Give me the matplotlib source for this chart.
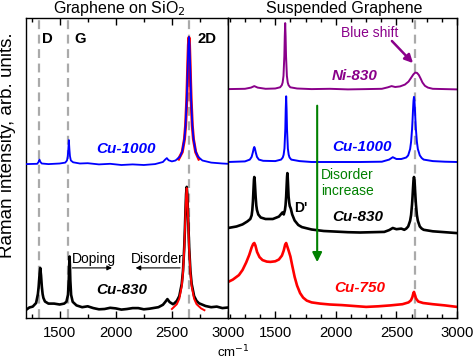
import matplotlib
matplotlib.use("Agg")
import matplotlib.pyplot as plt
from matplotlib.ticker import MultipleLocator, FixedLocator

plt.rcParams['font.family'] = ['Liberation Sans', 'DejaVu Sans']

# ---------------- data (wavenumber cm^-1, intensity arb. units, offset stacked) -------------
# Left panel: graphene on SiO2
l_cu1000_x = [1200, 1300, 1315, 1320, 1325, 1340, 1400, 1500, 1550, 1565, 1572, 1577, 1582, 1587, 1592,
              1600, 1620, 1680, 1750, 1850, 1950, 2050, 2150, 2250, 2350, 2420, 2440, 2455, 2470, 2500,
              2532, 2572, 2592, 2612, 2622, 2632, 2637, 2642, 2647, 2652, 2657, 2662, 2667, 2672, 2682,
              2692, 2712, 2732, 2772, 2850, 2950, 3000]
l_cu1000_y = [51.3, 51.4, 52.2, 52.8, 52.2, 51.5, 51.3, 51.5, 51.8, 52.5, 53.9, 56.2, 59.3, 56.2, 53.9,
              52.5, 51.9, 51.5, 51.6, 51.2, 51.4, 51.0, 51.2, 51.0, 51.3, 52.0, 52.8, 53.3, 52.6, 52.2,
              52.5, 53.8, 55.5, 59.8, 64.3, 72.5, 78.4, 85.2, 91.2, 93.7, 91.2, 85.2, 78.4, 72.5, 64.3,
              59.8, 55.5, 53.8, 52.5, 51.8, 51.5, 51.4]
l_cu1000_fit_x = [2560, 2592, 2612, 2622, 2632, 2637, 2642, 2647, 2652, 2657, 2662, 2667, 2672, 2682,
                  2692, 2712, 2740]
l_cu1000_fit_y = [53.0, 55.3, 59.6, 64.1, 72.3, 78.2, 85.0, 91.0, 93.5, 91.0, 85.0, 78.2, 72.3, 64.1,
                  59.6, 55.3, 53.0]

l_cu830_x = [1200, 1230, 1260, 1290, 1299, 1306, 1313, 1320, 1327, 1334, 1341, 1348, 1355, 1369, 1400,
             1450, 1500, 1540, 1560, 1574, 1581, 1584.5, 1588, 1591.5, 1595, 1602, 1616, 1650, 1700, 1750,
             1800, 1850, 1900, 1950, 2000, 2050, 2100, 2150, 2200, 2250, 2300, 2380, 2420, 2440, 2460,
             2480, 2510, 2522, 2544, 2566, 2588, 2599, 2610, 2615.5, 2621, 2626.5, 2632, 2637.5, 2643,
             2648.5, 2654, 2665, 2676, 2698, 2720, 2742, 2800, 2850, 2900, 2950, 3000]
l_cu830_y = [2.7, 3.5, 3.8, 5.0, 6.7, 8.0, 10.5, 14.2, 16.7, 14.2, 10.5, 8.0, 6.7, 5.5, 4.8,
             4.8, 4.5, 4.8, 5.4, 7.7, 12.5, 17.3, 20.5, 17.3, 12.5, 7.7, 5.4, 4.2, 3.6, 3.9,
             3.3, 2.9, 3.0, 3.4, 3.2, 2.8, 3.0, 3.3, 3.3, 2.9, 3.1, 3.6, 4.4, 5.3, 6.3,
             5.3, 4.6, 4.9, 5.7, 7.3, 11.4, 15.7, 23.5, 29.2, 35.6, 41.3, 43.7, 41.3, 35.6,
             29.2, 23.5, 15.7, 11.4, 7.3, 5.7, 4.9, 4.0, 3.6, 3.8, 3.3, 3.5]
l_cu830_fit_x = [2500, 2544, 2566, 2588, 2599, 2610, 2615.5, 2621, 2626.5, 2632, 2637.5, 2643, 2648.5,
                 2654, 2665, 2676, 2698, 2720, 2760, 2790]
l_cu830_fit_y = [3.0, 4.6, 6.4, 10.6, 15.0, 22.8, 28.6, 35.0, 40.8, 43.3, 40.8, 35.0, 28.6,
                 22.8, 15.0, 10.6, 6.4, 4.6, 3.2, 2.6]

# Right panel: suspended graphene
r_ni830_x = [1110, 1250, 1300, 1327, 1355, 1420, 1500, 1540, 1554, 1561, 1568, 1575, 1578.5, 1582,
             1585.5, 1589, 1596, 1603, 1610, 1624, 1680, 1800, 1950, 2100, 2250, 2380, 2430, 2460, 2490,
             2530, 2570, 2600, 2620, 2640, 2655, 2670, 2685, 2700, 2715, 2735, 2760, 2800, 2900, 3000]
r_ni830_y = [76.3, 76.4, 76.8, 77.3, 76.8, 76.4, 76.5, 76.9, 77.6, 78.5, 80.7, 87.3, 93.9, 98.3,
             93.9, 87.3, 80.7, 78.5, 77.6, 76.9, 76.5, 76.3, 76.4, 76.2, 76.3, 76.4, 76.9, 77.3, 77.0,
             77.2, 77.8, 78.8, 80.0, 81.2, 81.8, 81.7, 81.0, 79.8, 78.5, 77.4, 76.8, 76.4, 76.3, 76.2]

r_cu1000_x = [1110, 1250, 1290, 1305, 1315, 1322, 1327, 1332, 1339, 1349, 1365, 1400, 1500, 1548,
              1562, 1569, 1576, 1583, 1586.5, 1590, 1593.5, 1597, 1604, 1611, 1618, 1632, 1700, 1800,
              2000, 2200, 2380, 2440, 2470, 2500, 2540, 2565, 2581, 2597, 2613, 2621, 2629, 2633, 2637,
              2641, 2645, 2649, 2653, 2657, 2661, 2669, 2677, 2693, 2709, 2725, 2800, 2900, 3000]
r_cu1000_y = [52.0, 52.2, 52.8, 53.7, 55.2, 56.5, 57.0, 56.5, 55.2, 53.7, 52.8, 52.4, 52.3, 52.8,
              53.5, 54.4, 56.5, 63.0, 69.6, 73.9, 69.6, 63.0, 56.5, 54.4, 53.5, 52.8, 52.3, 52.0,
              52.0, 52.0, 52.1, 52.8, 53.6, 53.0, 53.0, 53.3, 53.5, 54.2, 56.3, 58.7, 62.9, 65.9, 69.4,
              72.4, 73.7, 72.4, 69.4, 65.9, 62.9, 58.7, 56.3, 54.2, 53.3, 52.8, 52.3, 52.1, 52.0]

r_cu830_x = [1110, 1180, 1230, 1270, 1294, 1305, 1310.5, 1316, 1321.5, 1324.3, 1327, 1329.7, 1332.5,
             1338, 1343.5, 1349, 1360, 1380, 1420, 1480, 1530, 1560, 1570, 1580, 1585, 1590, 1595,
             1597.5, 1600, 1602.5, 1605, 1610, 1615, 1620, 1628, 1640, 1660, 1690, 1720, 1800, 1900,
             2000, 2100, 2200, 2300, 2400, 2440, 2470, 2500, 2540, 2565, 2581, 2597, 2613, 2621, 2629,
             2633, 2637, 2641, 2645, 2649, 2653, 2657, 2661, 2669, 2677, 2693, 2709, 2725, 2800, 2900,
             3000]
r_cu830_y = [30.0, 30.5, 31.2, 32.2, 33.0, 34.2, 35.9, 39.0, 43.8, 46.1, 47.0, 46.3, 44.5,
             40.5, 37.5, 36.0, 34.5, 33.5, 33.0, 33.0, 33.8, 35.2, 34.5, 36.0, 37.6, 40.5, 45.0,
             47.1, 48.3, 47.1, 45.0, 40.5, 38.5, 37.3, 36.5, 34.5, 32.5, 31.0, 30.3, 29.5, 29.0,
             28.8, 28.6, 28.5, 28.6, 28.7, 29.3, 30.0, 29.6, 29.8, 29.4, 29.8, 30.5, 32.4, 34.3, 37.9,
             40.4, 43.3, 45.9, 47.0, 45.9, 43.3, 40.4, 37.9, 34.3, 32.4, 30.5, 29.8, 29.4, 28.9, 28.6,
             28.3]

r_cu750_x = [1110, 1150, 1200, 1230, 1260, 1285, 1305, 1318, 1327, 1336, 1350, 1370, 1395, 1430, 1460,
             1500, 1530, 1555, 1570, 1582, 1590, 1598, 1610, 1625, 1640, 1660, 1680, 1705, 1730, 1760,
             1800, 1870, 1950, 2050, 2150, 2250, 2350, 2450, 2550, 2600, 2620, 2632, 2640, 2645, 2652,
             2662, 2680, 2720, 2800, 2900, 3000]
r_cu750_y = [12.0, 12.8, 14.3, 16.0, 18.5, 21.0, 23.5, 24.7, 25.0, 24.2, 22.0, 20.3, 19.3, 18.8, 18.7,
             18.9, 19.5, 20.8, 22.5, 24.5, 25.0, 24.0, 22.5, 20.5, 17.5, 13.7, 10.8, 8.3, 6.8, 5.8,
             5.2, 4.8, 4.5, 4.3, 4.0, 3.7, 3.9, 4.2, 4.6, 5.2, 5.9, 7.0, 8.3, 8.7, 7.8,
             6.5, 5.5, 5.0, 4.6, 4.2, 3.7]

left_peak_lines = [1320, 1575, 2655]
right_peak_lines = [2650]
xticks_major = [1500, 2000, 2500, 3000]
xtick_labels = ['1500', '2000', '2500', '3000']

# ---------------- figure ----------------
W, H = 474, 363
fig = plt.figure(figsize=(W / 100, H / 100), dpi=100)
axL = fig.add_axes([26 / W, 45 / H, 202 / W, 300 / H])
axR = fig.add_axes([228 / W, 45 / H, 229 / W, 300 / H])

BLUE = '#0000ff'
RED = '#ff0000'
PURPLE = '#8a008a'
GREEN = '#008000'
GREY = '#aaaaaa'

for ax, xl, minor in [(axL, (1200, 3000), 250), (axR, (1110, 3000), 125)]:
    ax.set_xlim(*xl)
    ax.set_ylim(0, 100)
    ax.set_yticks([])
    ax.xaxis.set_major_locator(FixedLocator(xticks_major))
    ax.set_xticklabels(xtick_labels)
    ax.xaxis.set_minor_locator(MultipleLocator(minor))
    ax.tick_params(axis='x', which='both', direction='in', top=True, labelsize=10.7, pad=6)
    ax.tick_params(axis='x', which='major', length=5, width=1)
    ax.tick_params(axis='x', which='minor', length=3, width=1)
    for s in ax.spines.values():
        s.set_linewidth(1.0)

dash = (0, (4, 2.5))
for x in left_peak_lines:
    axL.axvline(x, color=GREY, lw=1.6, ls=dash, zorder=1)
for x in right_peak_lines:
    axR.axvline(x, color=GREY, lw=1.6, ls=dash, zorder=1)

# left spectra
axL.plot(l_cu1000_fit_x, l_cu1000_fit_y, color=RED, lw=2.2, zorder=2)
axL.plot(l_cu1000_x, l_cu1000_y, color=BLUE, lw=1.3, zorder=3)
axL.plot(l_cu830_x, l_cu830_y, color='black', lw=1.9, zorder=2)
axL.plot(l_cu830_fit_x, l_cu830_fit_y, color=RED, lw=1.4, zorder=3)

# right spectra
axR.plot(r_ni830_x, r_ni830_y, color=PURPLE, lw=1.4, zorder=2)
axR.plot(r_cu1000_x, r_cu1000_y, color=BLUE, lw=1.4, zorder=2)
axR.plot(r_cu830_x, r_cu830_y, color='black', lw=1.9, zorder=2)
axR.plot(r_cu750_x, r_cu750_y, color=RED, lw=1.9, zorder=2)

# peak labels
for txt, x in [('D', 1393), ('G', 1679), ('2D', 2812)]:
    axL.text(x, 93, txt, fontsize=10.7, fontweight='bold', ha='center', va='center')

lab = dict(fontsize=11, fontweight='bold', style='italic', ha='center', va='center')
axL.text(2089, 56.3, 'Cu-1000', color=BLUE, **lab)
axL.text(2054, 9.3, 'Cu-830', color='black', **lab)
axR.text(2159, 80.7, 'Ni-830', color=PURPLE, **lab)
axR.text(2217, 57, 'Cu-1000', color=BLUE, **lab)
axR.text(2184, 33.7, 'Cu-830', color='black', **lab)
axR.text(2200, 10, 'Cu-750', color=RED, **lab)

axL.text(1804, 19.7, 'Doping', fontsize=10, ha='center', va='center')
axL.text(2366, 19.7, 'Disorder', fontsize=10, ha='center', va='center')
axL.annotate('', xy=(1991, 16.7), xytext=(1589, 16.7),
             arrowprops=dict(arrowstyle='-|>', color='black', lw=0.8, mutation_scale=7))
axL.annotate('', xy=(2152, 16.7), xytext=(2598, 16.7),
             arrowprops=dict(arrowstyle='-|>', color='black', lw=0.8, mutation_scale=7))

axR.text(1714, 36.7, "D'", fontsize=10, fontweight='bold', ha='center', va='center')
axR.text(2283, 95, 'Blue shift', fontsize=10, color=PURPLE, ha='center', va='center')
axR.annotate('', xy=(2653, 84.3), xytext=(2447, 93),
             arrowprops=dict(arrowstyle='-|>', color=PURPLE, lw=1.8, mutation_scale=12))
axR.text(1879, 45, 'Disorder\nincrease', fontsize=10, color=GREEN, ha='left', va='center',
         linespacing=1.15)
axR.annotate('', xy=(1846, 17.7), xytext=(1846, 71.7),
             arrowprops=dict(arrowstyle='-|>', color=GREEN, lw=1.5, mutation_scale=14))

# titles and axis labels
fig.text(119 / W, 1 - 8 / H, 'Graphene on SiO$_2$', fontsize=11.5, ha='center', va='center')
fig.text(344 / W, 1 - 8 / H, 'Suspended Graphene', fontsize=11.5, ha='center', va='center')
fig.text(8 / W, 1 - 145 / H, 'Raman intensity, arb. units.', fontsize=13.5, rotation=90,
         ha='center', va='center')
fig.text(233 / W, 1 - 352 / H, 'cm$^{-1}$', fontsize=9.5, ha='center', va='center')

fig.savefig('out.png', dpi=100)
